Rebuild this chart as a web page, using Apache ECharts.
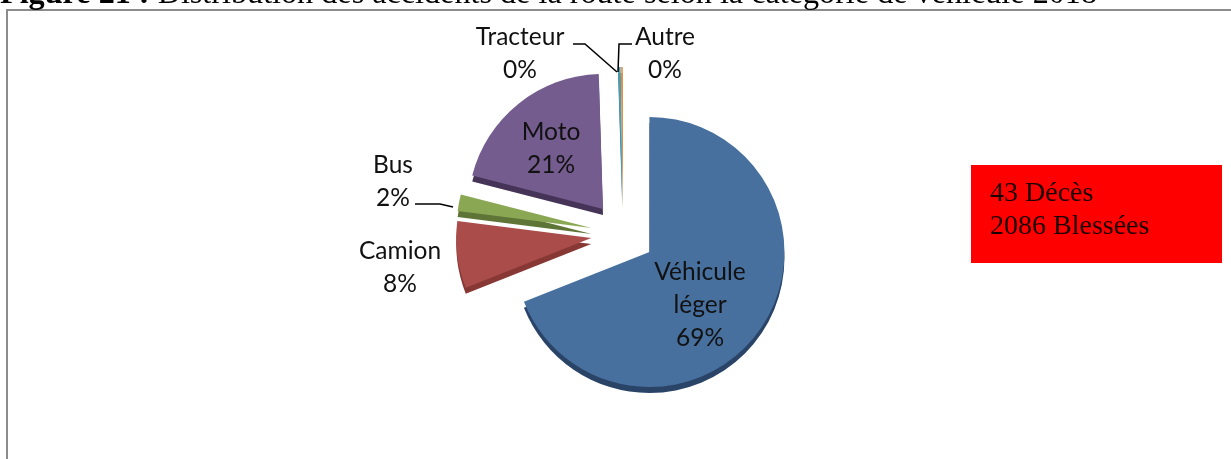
<!DOCTYPE html>
<html>
<head>
<meta charset="utf-8">
<style>
  html, body { margin: 0; padding: 0; background: #fff; }
  #chart { width: 1231px; height: 459px; }
</style>
<script src="https://cdn.jsdelivr.net/npm/echarts@6/dist/echarts.min.js"></script>
</head>
<body>
<div id="chart"></div>
<script>
// valeurs
const categories = ['Véhicule léger', 'Camion', 'Bus', 'Moto', 'Tracteur', 'Autre']
const values = [69, 8, 2, 20.5, 0.3, 0.2]
const topColors = ['#47709f', '#a94c4a', '#8aa854', '#745c8e', '#4a9db3', '#ec9344']
const sideColors = ['#2a4468', '#873835', '#5f7537', '#463358', '#2f7386', '#b86d2c']

// position du centre de chaque etiquette
const labelX = [700, 400, 393, 551, 520, 665]
const labelY = [305, 268, 182, 149, 54, 54]
const leaderLines = [
  [[415, 204], [440, 204], [453, 207]],
  [[573, 44], [585, 44], [617, 72]],
  [[632, 44], [619, 44], [618, 72]]
]

const total = values.reduce((a, b) => a + b, 0)

const chart = echarts.init(document.getElementById('chart'))

// les libelles sont poses a la main, labelLayout n'agit pas sur le pie ici
const labelGraphics = categories.map((name, i) => ({
  type: 'text',
  z: 10,
  x: labelX[i],
  y: labelY[i],
  style: {
    text: name.replace(' ', '\n') + '\n' + Math.round(values[i] / total * 100) + '%',
    font: '24.5px Lato',
    lineHeight: 33,
    fill: '#111',
    align: 'center',
    verticalAlign: 'middle'
  }
}))

const leaderGraphics = leaderLines.map(points => ({
  type: 'polyline',
  z: 9,
  shape: { points },
  style: { fill: 'none', stroke: '#000', lineWidth: 1.5 }
}))

function pieSeries (cy, colors, z) {
  return {
    type: 'pie',
    z,
    silent: true,
    center: [623, cy],
    radius: [0, 135],
    startAngle: 90,
    selectedMode: 'multiple',
    selectedOffset: 32,
    label: { show: false },
    labelLine: { show: false },
    data: categories.map((name, i) => ({
      name,
      value: values[i],
      selected: true,
      itemStyle: { color: colors[i] }
    }))
  }
}

chart.setOption({
  animation: false,
  graphic: [
    {
      type: 'text', x: 0, y: -21, z: 5,
      style: {
        text: '{b|Figure 21 :} Distribution des accidents de la route selon la catégorie de véhicule 2018',
        font: '32.2px "Liberation Serif"',
        fill: '#000',
        rich: { b: { font: 'bold 32.2px "Liberation Serif"', fill: '#000' } }
      }
    },
    {
      type: 'rect', z: 1, silent: true,
      shape: { x: 7, y: 10, width: 1400, height: 700 },
      style: { fill: 'transparent', stroke: '#8c8c8c', lineWidth: 2 }
    },
    {
      type: 'rect', z: 2,
      shape: { x: 971, y: 165, width: 251, height: 98 },
      style: { fill: '#ff0000' }
    },
    {
      type: 'text', z: 3, x: 990, y: 210.5,
      style: {
        text: '43 Décès\n2086 Blessées',
        font: '28px "Liberation Serif"',
        lineHeight: 33,
        fill: '#1a0000',
        verticalAlign: 'middle'
      }
    },
    ...leaderGraphics,
    ...labelGraphics
  ],
  series: [
    // epaisseur 3D : meme camembert decale vers le bas
    pieSeries(240, sideColors, 2),
    pieSeries(234, topColors, 3)
  ]
})
</script>
</body>
</html>
